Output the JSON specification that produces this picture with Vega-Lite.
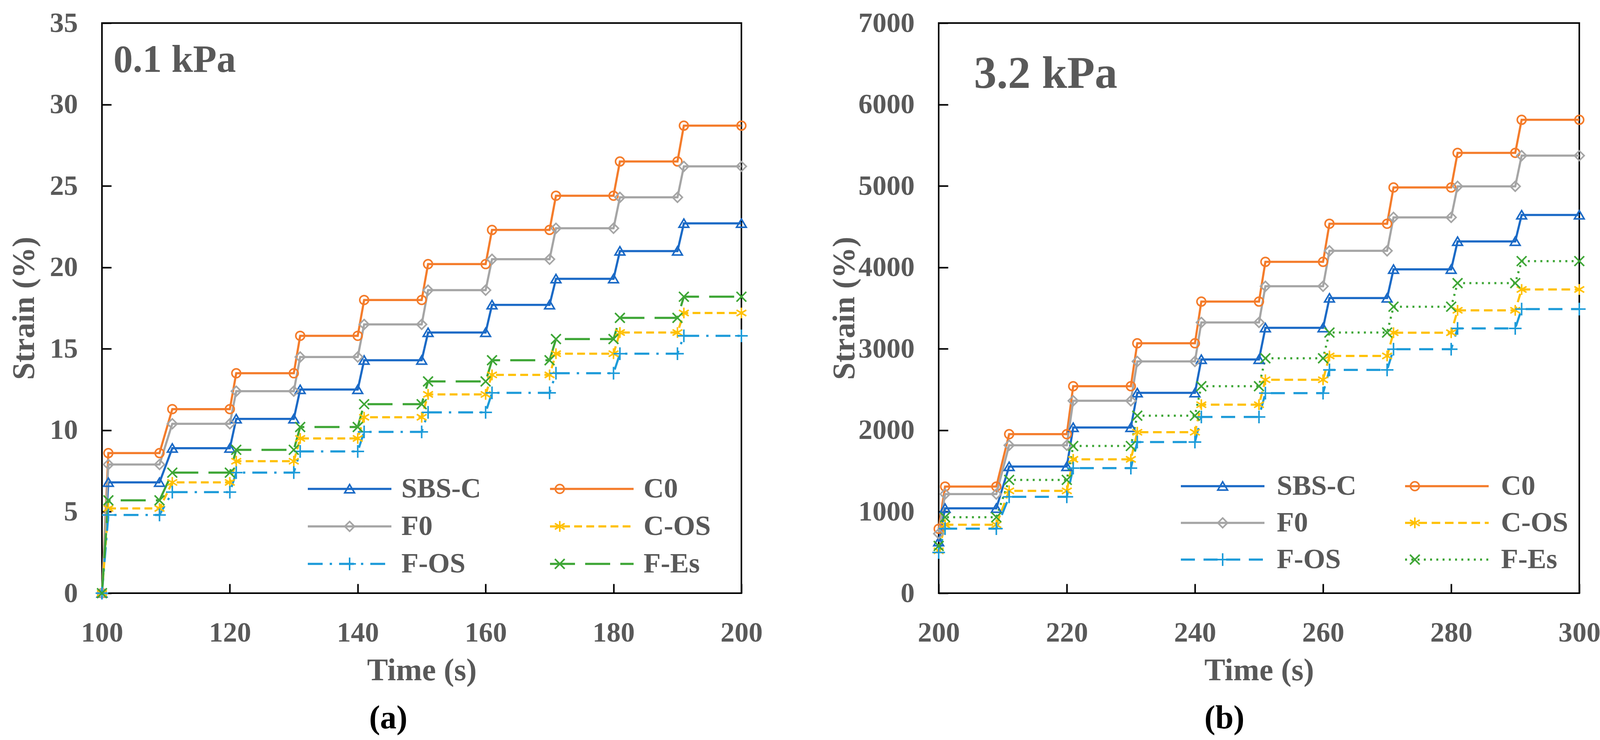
{
  "$schema": "https://vega.github.io/schema/vega-lite/v6.json",
  "background": "white",
  "padding": {"left": 20, "top": 21, "right": 0, "bottom": 0},
  "datasets": {
    "a": [
      {"series": "SBS-C", "time": 100, "strain": 0}, {"series": "SBS-C", "time": 101, "strain": 6.8}, {"series": "SBS-C", "time": 109, "strain": 6.8},
      {"series": "SBS-C", "time": 111, "strain": 8.9}, {"series": "SBS-C", "time": 120, "strain": 8.9}, {"series": "SBS-C", "time": 121, "strain": 10.7},
      {"series": "SBS-C", "time": 130, "strain": 10.7}, {"series": "SBS-C", "time": 131, "strain": 12.5}, {"series": "SBS-C", "time": 140, "strain": 12.5},
      {"series": "SBS-C", "time": 141, "strain": 14.3}, {"series": "SBS-C", "time": 150, "strain": 14.3}, {"series": "SBS-C", "time": 151, "strain": 16.0},
      {"series": "SBS-C", "time": 160, "strain": 16.0}, {"series": "SBS-C", "time": 161, "strain": 17.7}, {"series": "SBS-C", "time": 170, "strain": 17.7},
      {"series": "SBS-C", "time": 171, "strain": 19.3}, {"series": "SBS-C", "time": 180, "strain": 19.3}, {"series": "SBS-C", "time": 181, "strain": 21.0},
      {"series": "SBS-C", "time": 190, "strain": 21.0}, {"series": "SBS-C", "time": 191, "strain": 22.7}, {"series": "SBS-C", "time": 200, "strain": 22.7},
      {"series": "C0", "time": 100, "strain": 0}, {"series": "C0", "time": 101, "strain": 8.6}, {"series": "C0", "time": 109, "strain": 8.6},
      {"series": "C0", "time": 111, "strain": 11.3}, {"series": "C0", "time": 120, "strain": 11.3}, {"series": "C0", "time": 121, "strain": 13.5},
      {"series": "C0", "time": 130, "strain": 13.5}, {"series": "C0", "time": 131, "strain": 15.8}, {"series": "C0", "time": 140, "strain": 15.8},
      {"series": "C0", "time": 141, "strain": 18.0}, {"series": "C0", "time": 150, "strain": 18.0}, {"series": "C0", "time": 151, "strain": 20.2},
      {"series": "C0", "time": 160, "strain": 20.2}, {"series": "C0", "time": 161, "strain": 22.3}, {"series": "C0", "time": 170, "strain": 22.3},
      {"series": "C0", "time": 171, "strain": 24.4}, {"series": "C0", "time": 180, "strain": 24.4}, {"series": "C0", "time": 181, "strain": 26.5},
      {"series": "C0", "time": 190, "strain": 26.5}, {"series": "C0", "time": 191, "strain": 28.7}, {"series": "C0", "time": 200, "strain": 28.7},
      {"series": "F0", "time": 100, "strain": 0}, {"series": "F0", "time": 101, "strain": 7.9}, {"series": "F0", "time": 109, "strain": 7.9},
      {"series": "F0", "time": 111, "strain": 10.4}, {"series": "F0", "time": 120, "strain": 10.4}, {"series": "F0", "time": 121, "strain": 12.4},
      {"series": "F0", "time": 130, "strain": 12.4}, {"series": "F0", "time": 131, "strain": 14.5}, {"series": "F0", "time": 140, "strain": 14.5},
      {"series": "F0", "time": 141, "strain": 16.5}, {"series": "F0", "time": 150, "strain": 16.5}, {"series": "F0", "time": 151, "strain": 18.6},
      {"series": "F0", "time": 160, "strain": 18.6}, {"series": "F0", "time": 161, "strain": 20.5}, {"series": "F0", "time": 170, "strain": 20.5},
      {"series": "F0", "time": 171, "strain": 22.4}, {"series": "F0", "time": 180, "strain": 22.4}, {"series": "F0", "time": 181, "strain": 24.3},
      {"series": "F0", "time": 190, "strain": 24.3}, {"series": "F0", "time": 191, "strain": 26.2}, {"series": "F0", "time": 200, "strain": 26.2},
      {"series": "C-OS", "time": 100, "strain": 0}, {"series": "C-OS", "time": 101, "strain": 5.2}, {"series": "C-OS", "time": 109, "strain": 5.2},
      {"series": "C-OS", "time": 111, "strain": 6.8}, {"series": "C-OS", "time": 120, "strain": 6.8}, {"series": "C-OS", "time": 121, "strain": 8.1},
      {"series": "C-OS", "time": 130, "strain": 8.1}, {"series": "C-OS", "time": 131, "strain": 9.5}, {"series": "C-OS", "time": 140, "strain": 9.5},
      {"series": "C-OS", "time": 141, "strain": 10.8}, {"series": "C-OS", "time": 150, "strain": 10.8}, {"series": "C-OS", "time": 151, "strain": 12.2},
      {"series": "C-OS", "time": 160, "strain": 12.2}, {"series": "C-OS", "time": 161, "strain": 13.4}, {"series": "C-OS", "time": 170, "strain": 13.4},
      {"series": "C-OS", "time": 171, "strain": 14.7}, {"series": "C-OS", "time": 180, "strain": 14.7}, {"series": "C-OS", "time": 181, "strain": 16.0},
      {"series": "C-OS", "time": 190, "strain": 16.0}, {"series": "C-OS", "time": 191, "strain": 17.2}, {"series": "C-OS", "time": 200, "strain": 17.2},
      {"series": "F-OS", "time": 100, "strain": 0}, {"series": "F-OS", "time": 101, "strain": 4.8}, {"series": "F-OS", "time": 109, "strain": 4.8},
      {"series": "F-OS", "time": 111, "strain": 6.2}, {"series": "F-OS", "time": 120, "strain": 6.2}, {"series": "F-OS", "time": 121, "strain": 7.4},
      {"series": "F-OS", "time": 130, "strain": 7.4}, {"series": "F-OS", "time": 131, "strain": 8.7}, {"series": "F-OS", "time": 140, "strain": 8.7},
      {"series": "F-OS", "time": 141, "strain": 9.9}, {"series": "F-OS", "time": 150, "strain": 9.9}, {"series": "F-OS", "time": 151, "strain": 11.1},
      {"series": "F-OS", "time": 160, "strain": 11.1}, {"series": "F-OS", "time": 161, "strain": 12.3}, {"series": "F-OS", "time": 170, "strain": 12.3},
      {"series": "F-OS", "time": 171, "strain": 13.5}, {"series": "F-OS", "time": 180, "strain": 13.5}, {"series": "F-OS", "time": 181, "strain": 14.7},
      {"series": "F-OS", "time": 190, "strain": 14.7}, {"series": "F-OS", "time": 191, "strain": 15.8}, {"series": "F-OS", "time": 200, "strain": 15.8},
      {"series": "F-Es", "time": 100, "strain": 0}, {"series": "F-Es", "time": 101, "strain": 5.7}, {"series": "F-Es", "time": 109, "strain": 5.7},
      {"series": "F-Es", "time": 111, "strain": 7.4}, {"series": "F-Es", "time": 120, "strain": 7.4}, {"series": "F-Es", "time": 121, "strain": 8.8},
      {"series": "F-Es", "time": 130, "strain": 8.8}, {"series": "F-Es", "time": 131, "strain": 10.2}, {"series": "F-Es", "time": 140, "strain": 10.2},
      {"series": "F-Es", "time": 141, "strain": 11.6}, {"series": "F-Es", "time": 150, "strain": 11.6}, {"series": "F-Es", "time": 151, "strain": 13.0},
      {"series": "F-Es", "time": 160, "strain": 13.0}, {"series": "F-Es", "time": 161, "strain": 14.3}, {"series": "F-Es", "time": 170, "strain": 14.3},
      {"series": "F-Es", "time": 171, "strain": 15.6}, {"series": "F-Es", "time": 180, "strain": 15.6}, {"series": "F-Es", "time": 181, "strain": 16.9},
      {"series": "F-Es", "time": 190, "strain": 16.9}, {"series": "F-Es", "time": 191, "strain": 18.2}, {"series": "F-Es", "time": 200, "strain": 18.2}
    ],
    "b": [
      {"series": "SBS-C", "time": 200, "strain": 630}, {"series": "SBS-C", "time": 201, "strain": 1042}, {"series": "SBS-C", "time": 209, "strain": 1042},
      {"series": "SBS-C", "time": 211, "strain": 1555}, {"series": "SBS-C", "time": 220, "strain": 1555}, {"series": "SBS-C", "time": 221, "strain": 2034},
      {"series": "SBS-C", "time": 230, "strain": 2034}, {"series": "SBS-C", "time": 231, "strain": 2459}, {"series": "SBS-C", "time": 240, "strain": 2459},
      {"series": "SBS-C", "time": 241, "strain": 2870}, {"series": "SBS-C", "time": 250, "strain": 2870}, {"series": "SBS-C", "time": 251, "strain": 3258},
      {"series": "SBS-C", "time": 260, "strain": 3258}, {"series": "SBS-C", "time": 261, "strain": 3623}, {"series": "SBS-C", "time": 270, "strain": 3623},
      {"series": "SBS-C", "time": 271, "strain": 3976}, {"series": "SBS-C", "time": 280, "strain": 3976}, {"series": "SBS-C", "time": 281, "strain": 4319},
      {"series": "SBS-C", "time": 290, "strain": 4319}, {"series": "SBS-C", "time": 291, "strain": 4643}, {"series": "SBS-C", "time": 300, "strain": 4643},
      {"series": "C0", "time": 200, "strain": 790}, {"series": "C0", "time": 201, "strain": 1309}, {"series": "C0", "time": 209, "strain": 1309},
      {"series": "C0", "time": 211, "strain": 1952}, {"series": "C0", "time": 220, "strain": 1952}, {"series": "C0", "time": 221, "strain": 2541},
      {"series": "C0", "time": 230, "strain": 2541}, {"series": "C0", "time": 231, "strain": 3068}, {"series": "C0", "time": 240, "strain": 3068},
      {"series": "C0", "time": 241, "strain": 3580}, {"series": "C0", "time": 250, "strain": 3580}, {"series": "C0", "time": 251, "strain": 4068},
      {"series": "C0", "time": 260, "strain": 4068}, {"series": "C0", "time": 261, "strain": 4536}, {"series": "C0", "time": 270, "strain": 4536},
      {"series": "C0", "time": 271, "strain": 4981}, {"series": "C0", "time": 280, "strain": 4981}, {"series": "C0", "time": 281, "strain": 5406},
      {"series": "C0", "time": 290, "strain": 5406}, {"series": "C0", "time": 291, "strain": 5812}, {"series": "C0", "time": 300, "strain": 5812},
      {"series": "F0", "time": 200, "strain": 730}, {"series": "F0", "time": 201, "strain": 1217}, {"series": "F0", "time": 209, "strain": 1217},
      {"series": "F0", "time": 211, "strain": 1816}, {"series": "F0", "time": 220, "strain": 1816}, {"series": "F0", "time": 221, "strain": 2362},
      {"series": "F0", "time": 230, "strain": 2362}, {"series": "F0", "time": 231, "strain": 2845}, {"series": "F0", "time": 240, "strain": 2845},
      {"series": "F0", "time": 241, "strain": 3324}, {"series": "F0", "time": 250, "strain": 3324}, {"series": "F0", "time": 251, "strain": 3768},
      {"series": "F0", "time": 260, "strain": 3768}, {"series": "F0", "time": 261, "strain": 4203}, {"series": "F0", "time": 270, "strain": 4203},
      {"series": "F0", "time": 271, "strain": 4614}, {"series": "F0", "time": 280, "strain": 4614}, {"series": "F0", "time": 281, "strain": 4995},
      {"series": "F0", "time": 290, "strain": 4995}, {"series": "F0", "time": 291, "strain": 5372}, {"series": "F0", "time": 300, "strain": 5372},
      {"series": "C-OS", "time": 200, "strain": 520}, {"series": "C-OS", "time": 201, "strain": 840}, {"series": "C-OS", "time": 209, "strain": 840},
      {"series": "C-OS", "time": 211, "strain": 1256}, {"series": "C-OS", "time": 220, "strain": 1256}, {"series": "C-OS", "time": 221, "strain": 1643},
      {"series": "C-OS", "time": 230, "strain": 1643}, {"series": "C-OS", "time": 231, "strain": 1976}, {"series": "C-OS", "time": 240, "strain": 1976},
      {"series": "C-OS", "time": 241, "strain": 2314}, {"series": "C-OS", "time": 250, "strain": 2314}, {"series": "C-OS", "time": 251, "strain": 2620},
      {"series": "C-OS", "time": 260, "strain": 2620}, {"series": "C-OS", "time": 261, "strain": 2913}, {"series": "C-OS", "time": 270, "strain": 2913},
      {"series": "C-OS", "time": 271, "strain": 3198}, {"series": "C-OS", "time": 280, "strain": 3198}, {"series": "C-OS", "time": 281, "strain": 3473},
      {"series": "C-OS", "time": 290, "strain": 3473}, {"series": "C-OS", "time": 291, "strain": 3729}, {"series": "C-OS", "time": 300, "strain": 3729},
      {"series": "F-OS", "time": 200, "strain": 500}, {"series": "F-OS", "time": 201, "strain": 792}, {"series": "F-OS", "time": 209, "strain": 792},
      {"series": "F-OS", "time": 211, "strain": 1183}, {"series": "F-OS", "time": 220, "strain": 1183}, {"series": "F-OS", "time": 221, "strain": 1536},
      {"series": "F-OS", "time": 230, "strain": 1536}, {"series": "F-OS", "time": 231, "strain": 1855}, {"series": "F-OS", "time": 240, "strain": 1855},
      {"series": "F-OS", "time": 241, "strain": 2164}, {"series": "F-OS", "time": 250, "strain": 2164}, {"series": "F-OS", "time": 251, "strain": 2456},
      {"series": "F-OS", "time": 260, "strain": 2456}, {"series": "F-OS", "time": 261, "strain": 2741}, {"series": "F-OS", "time": 270, "strain": 2741},
      {"series": "F-OS", "time": 271, "strain": 2995}, {"series": "F-OS", "time": 280, "strain": 2995}, {"series": "F-OS", "time": 281, "strain": 3251},
      {"series": "F-OS", "time": 290, "strain": 3251}, {"series": "F-OS", "time": 291, "strain": 3488}, {"series": "F-OS", "time": 300, "strain": 3488},
      {"series": "F-Es", "time": 200, "strain": 580}, {"series": "F-Es", "time": 201, "strain": 932}, {"series": "F-Es", "time": 209, "strain": 932},
      {"series": "F-Es", "time": 211, "strain": 1391}, {"series": "F-Es", "time": 220, "strain": 1391}, {"series": "F-Es", "time": 221, "strain": 1807},
      {"series": "F-Es", "time": 230, "strain": 1807}, {"series": "F-Es", "time": 231, "strain": 2179}, {"series": "F-Es", "time": 240, "strain": 2179},
      {"series": "F-Es", "time": 241, "strain": 2541}, {"series": "F-Es", "time": 250, "strain": 2541}, {"series": "F-Es", "time": 251, "strain": 2884},
      {"series": "F-Es", "time": 260, "strain": 2884}, {"series": "F-Es", "time": 261, "strain": 3200}, {"series": "F-Es", "time": 270, "strain": 3200},
      {"series": "F-Es", "time": 271, "strain": 3517}, {"series": "F-Es", "time": 280, "strain": 3517}, {"series": "F-Es", "time": 281, "strain": 3807},
      {"series": "F-Es", "time": 290, "strain": 3807}, {"series": "F-Es", "time": 291, "strain": 4077}, {"series": "F-Es", "time": 300, "strain": 4077}
    ]
  },
  "bounds": "flush",
  "spacing": 505,
  "resolve": {
    "scale": {"color": "independent", "shape": "independent", "strokeDash": "independent"},
    "legend": {"color": "independent", "shape": "independent", "strokeDash": "independent"}
  },
  "hconcat": [
    {
      "width": 1637,
      "height": 1460,
      "data": {"name": "a"},
      "title": {"text": "(a)", "orient": "bottom", "offset": 42, "frame": "bounds", "dx": 7},
      "resolve": {"legend": {"color": "independent", "shape": "independent", "strokeDash": "independent"}},
      "layer": [
        {
          "mark": {"type": "line", "strokeWidth": 5.5},
          "encoding": {
            "x": {"field": "time", "type": "quantitative", "title": "Time (s)",
              "scale": {"domain": [100, 200], "nice": false, "zero": false},
              "axis": {"values": [100, 120, 140, 160, 180, 200]}},
            "y": {"field": "strain", "type": "quantitative", "title": "Strain (%)",
              "scale": {"domain": [0, 35], "nice": false},
              "axis": {"values": [0, 5, 10, 15, 20, 25, 30, 35], "titlePadding": 24}},
            "color": {"field": "series", "type": "nominal",
              "scale": {"domain": ["SBS-C", "C0", "F0", "C-OS", "F-OS", "F-Es"],
                "range": ["#1B6AC6", "#F47C2B", "#A5A5A5", "#FFC000", "#1D9BD9", "#3EA636"]},
              "legend": {"orient": "none", "legendX": 598, "legendY": 1157, "columns": 2, "direction": "horizontal", "title": null,
                "symbolType": "M-8.56,0H8.56", "symbolSize": 625, "symbolStrokeWidth": 5.5,
                "labelOffset": 96.5, "columnPadding": 165, "rowPadding": 24, "padding": 0}},
            "strokeDash": {"field": "series", "type": "nominal",
              "scale": {"domain": ["SBS-C", "C0", "F0", "C-OS", "F-OS", "F-Es"],
                "range": [[1, 0], [1, 0], [1, 0], [20, 11], [38, 18, 6, 18], [64, 26]]},
              "legend": {"orient": "none", "legendX": 598, "legendY": 1157, "columns": 2, "direction": "horizontal", "title": null,
                "symbolType": "M-8.56,0H8.56", "symbolSize": 625, "symbolStrokeWidth": 5.5,
                "labelOffset": 96.5, "columnPadding": 165, "rowPadding": 24, "padding": 0}}
          }
        },
        {
          "mark": {"type": "point", "filled": false, "strokeWidth": 4, "size": 625, "opacity": 1},
          "encoding": {
            "x": {"field": "time", "type": "quantitative"},
            "y": {"field": "strain", "type": "quantitative"},
            "color": {"field": "series", "type": "nominal",
              "scale": {"domain": ["SBS-C", "C0", "F0", "C-OS", "F-OS", "F-Es"],
                "range": ["#1B6AC6", "#F47C2B", "#A5A5A5", "#FFC000", "#1D9BD9", "#3EA636"]},
              "legend": {"orient": "none", "legendX": 598, "legendY": 1157, "columns": 2, "direction": "horizontal", "title": null,
                "symbolSize": 625, "symbolStrokeWidth": 4, "labelExpr": "''",
                "labelOffset": 96.5, "columnPadding": 369, "rowPadding": 24, "padding": 0,
                "encode": {"symbols": {"update": {"shape": {"signal": "datum.value === 'SBS-C' ? 'M-8.56,0M8.56,0M0,-0.9L1,0.8L-1,0.8Z' : datum.value === 'C0' ? 'M-8.56,0M8.56,0M0.9,0A0.9,0.9,0,1,1,-0.9,0A0.9,0.9,0,1,1,0.9,0Z' : datum.value === 'F0' ? 'M-8.56,0M8.56,0M0,-1L1,0L0,1L-1,0Z' : datum.value === 'C-OS' ? 'M-8.56,0M8.56,0M0,-1.1V1.1M-1,-0.6L1,0.6M-1,0.6L1,-0.6' : datum.value === 'F-OS' ? 'M-8.56,0M8.56,0M-1.3,0H1.3M0,-1.3V1.3' : 'M-8.56,0M8.56,0M-1,-1L1,1M-1,1L1,-1'"}}}}}},
            "shape": {"field": "series", "type": "nominal",
              "scale": {"domain": ["SBS-C", "C0", "F0", "C-OS", "F-OS", "F-Es"],
                "range": ["M0,-0.9L1,0.8L-1,0.8Z", "M0.9,0A0.9,0.9,0,1,1,-0.9,0A0.9,0.9,0,1,1,0.9,0Z", "M0,-1L1,0L0,1L-1,0Z",
                  "M0,-1.1V1.1M-1,-0.6L1,0.6M-1,0.6L1,-0.6", "M-1.3,0H1.3M0,-1.3V1.3", "M-1,-1L1,1M-1,1L1,-1"]},
              "legend": {"orient": "none", "legendX": 598, "legendY": 1157, "columns": 2, "direction": "horizontal", "title": null,
                "symbolSize": 625, "symbolStrokeWidth": 4, "labelExpr": "''",
                "labelOffset": 96.5, "columnPadding": 369, "rowPadding": 24, "padding": 0}}
          }
        },
        {
          "data": {"values": [{"label": "0.1 kPa"}]},
          "mark": {"type": "text", "align": "left", "baseline": "alphabetic", "fontSize": 99, "fontWeight": "bold", "font": "Liberation Serif", "color": "#595959"},
          "encoding": {
            "x": {"datum": 101.8, "type": "quantitative"},
            "y": {"datum": 32.0, "type": "quantitative"},
            "text": {"field": "label"}
          }
        }
      ]
    },
    {
      "width": 1640,
      "height": 1460,
      "data": {"name": "b"},
      "title": {"text": "(b)", "orient": "bottom", "offset": 42, "frame": "bounds", "dx": 25},
      "resolve": {"legend": {"color": "independent", "shape": "independent", "strokeDash": "independent"}},
      "layer": [
        {
          "mark": {"type": "line", "strokeWidth": 5.5},
          "encoding": {
            "x": {"field": "time", "type": "quantitative", "title": "Time (s)",
              "scale": {"domain": [200, 300], "nice": false, "zero": false},
              "axis": {"values": [200, 220, 240, 260, 280, 300]}},
            "y": {"field": "strain", "type": "quantitative", "title": "Strain (%)",
              "scale": {"domain": [0, 7000], "nice": false},
              "axis": {"values": [0, 1000, 2000, 3000, 4000, 5000, 6000, 7000], "format": "d", "titlePadding": 0}},
            "color": {"field": "series", "type": "nominal",
              "scale": {"domain": ["SBS-C", "C0", "F0", "C-OS", "F-OS", "F-Es"],
                "range": ["#1B6AC6", "#F47C2B", "#A5A5A5", "#FFC000", "#1D9BD9", "#3EA636"]},
              "legend": {"orient": "none", "legendX": 691, "legendY": 1150, "columns": 2, "direction": "horizontal", "title": null,
                "symbolType": "M-8.56,0H8.56", "symbolSize": 625, "symbolStrokeWidth": 5.5,
                "labelOffset": 102.5, "columnPadding": 113, "rowPadding": 22, "padding": 0}},
            "strokeDash": {"field": "series", "type": "nominal",
              "scale": {"domain": ["SBS-C", "C0", "F0", "C-OS", "F-OS", "F-Es"],
                "range": [[1, 0], [1, 0], [1, 0], [22, 12], [36, 22], [5, 11]]},
              "legend": {"orient": "none", "legendX": 691, "legendY": 1150, "columns": 2, "direction": "horizontal", "title": null,
                "symbolType": "M-8.56,0H8.56", "symbolSize": 625, "symbolStrokeWidth": 5.5,
                "labelOffset": 102.5, "columnPadding": 113, "rowPadding": 22, "padding": 0}}
          }
        },
        {
          "mark": {"type": "point", "filled": false, "strokeWidth": 4, "size": 625, "opacity": 1},
          "encoding": {
            "x": {"field": "time", "type": "quantitative"},
            "y": {"field": "strain", "type": "quantitative"},
            "color": {"field": "series", "type": "nominal",
              "scale": {"domain": ["SBS-C", "C0", "F0", "C-OS", "F-OS", "F-Es"],
                "range": ["#1B6AC6", "#F47C2B", "#A5A5A5", "#FFC000", "#1D9BD9", "#3EA636"]},
              "legend": {"orient": "none", "legendX": 691, "legendY": 1150, "columns": 2, "direction": "horizontal", "title": null,
                "symbolSize": 625, "symbolStrokeWidth": 4, "labelExpr": "''",
                "labelOffset": 102.5, "columnPadding": 317, "rowPadding": 22, "padding": 0,
                "encode": {"symbols": {"update": {"shape": {"signal": "datum.value === 'SBS-C' ? 'M-8.56,0M8.56,0M0,-0.9L1,0.8L-1,0.8Z' : datum.value === 'C0' ? 'M-8.56,0M8.56,0M0.9,0A0.9,0.9,0,1,1,-0.9,0A0.9,0.9,0,1,1,0.9,0Z' : datum.value === 'F0' ? 'M-8.56,0M8.56,0M0,-1L1,0L0,1L-1,0Z' : datum.value === 'C-OS' ? 'M-8.56,0M8.56,0M0,-1.1V1.1M-1,-0.6L1,0.6M-1,0.6L1,-0.6' : datum.value === 'F-OS' ? 'M-8.56,0M8.56,0M-1.3,0H1.3M0,-1.3V1.3' : 'M-8.56,0M8.56,0M-1,-1L1,1M-1,1L1,-1'"}}}}}},
            "shape": {"field": "series", "type": "nominal",
              "scale": {"domain": ["SBS-C", "C0", "F0", "C-OS", "F-OS", "F-Es"],
                "range": ["M0,-0.9L1,0.8L-1,0.8Z", "M0.9,0A0.9,0.9,0,1,1,-0.9,0A0.9,0.9,0,1,1,0.9,0Z", "M0,-1L1,0L0,1L-1,0Z",
                  "M0,-1.1V1.1M-1,-0.6L1,0.6M-1,0.6L1,-0.6", "M-1.3,0H1.3M0,-1.3V1.3", "M-1,-1L1,1M-1,1L1,-1"]},
              "legend": {"orient": "none", "legendX": 691, "legendY": 1150, "columns": 2, "direction": "horizontal", "title": null,
                "symbolSize": 625, "symbolStrokeWidth": 4, "labelExpr": "''",
                "labelOffset": 102.5, "columnPadding": 317, "rowPadding": 22, "padding": 0}}
          }
        },
        {
          "data": {"values": [{"label": "3.2 kPa"}]},
          "mark": {"type": "text", "align": "left", "baseline": "alphabetic", "fontSize": 116, "fontWeight": "bold", "font": "Liberation Serif", "color": "#595959"},
          "encoding": {
            "x": {"datum": 205.5, "type": "quantitative"},
            "y": {"datum": 6204, "type": "quantitative"},
            "text": {"field": "label"}
          }
        }
      ]
    }
  ],
  "config": {
    "view": {"stroke": "black", "strokeWidth": 4, "fill": "white"},
    "font": "Liberation Serif",
    "axis": {
      "domain": false, "grid": false, "ticks": true, "tickSize": -24, "tickWidth": 4, "tickColor": "black",
      "labelFont": "Liberation Serif", "labelFontWeight": "bold", "labelFontSize": 72, "labelColor": "#595959",
      "labelFlush": false, "labelOverlap": false, "labelLimit": 0,
      "titleFont": "Liberation Serif", "titleFontWeight": "bold", "titleFontSize": 80, "titleColor": "#595959"
    },
    "axisX": {"labelPadding": 90, "titlePadding": 22},
    "axisY": {"labelPadding": 86},
    "legend": {
      "labelFont": "Liberation Serif", "labelFontWeight": "bold", "labelFontSize": 72, "labelColor": "#595959",
      "labelLimit": 0, "symbolOpacity": 1
    },
    "title": {"font": "Liberation Serif", "fontSize": 84, "fontWeight": "bold", "color": "black", "anchor": "middle", "baseline": "top"}
  }
}
